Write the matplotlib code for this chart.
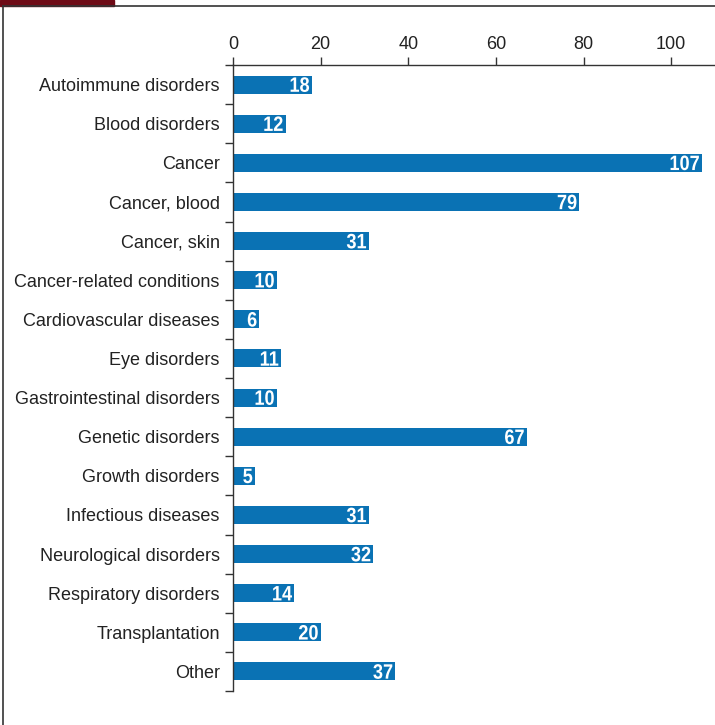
import numpy as np
import matplotlib.pyplot as plt
from matplotlib.patches import Rectangle
from matplotlib.lines import Line2D
from matplotlib.patheffects import AbstractPathEffect
from matplotlib.transforms import Affine2D

# data
categories = [
    "Autoimmune disorders", "Blood disorders", "Cancer", "Cancer, blood",
    "Cancer, skin", "Cancer-related conditions", "Cardiovascular diseases",
    "Eye disorders", "Gastrointestinal disorders", "Genetic disorders",
    "Growth disorders", "Infectious diseases", "Neurological disorders",
    "Respiratory disorders", "Transplantation", "Other",
]
counts = [18, 12, 107, 79, 31, 10, 6, 11, 10, 67, 5, 31, 32, 14, 20, 37]
x_ticks = [0, 20, 40, 60, 80, 100]

plt.rcParams['font.family'] = ['Liberation Sans', 'DejaVu Sans']


# squeeze text horizontally around x0 (display px) to fake a condensed font
class Squeeze(AbstractPathEffect):
    def __init__(self, x0, sx):
        super().__init__()
        self.x0, self.sx = x0, sx

    def draw_path(self, renderer, gc, tpath, affine, rgbFace=None):
        t = affine + Affine2D().translate(-self.x0, 0).scale(self.sx, 1).translate(self.x0, 0)
        renderer.draw_path(gc, tpath, t, rgbFace)


fig = plt.figure(figsize=(7.15, 7.25), dpi=100)

# frame: top line, left line, red tab
fig.add_artist(Line2D([3/715, 1], [1 - 6/725, 1 - 6/725], color='#333333', lw=1.2,
                      transform=fig.transFigure))
fig.add_artist(Line2D([3/715, 3/715], [0, 1 - 6/725], color='#333333', lw=1.2,
                      transform=fig.transFigure))
fig.add_artist(Rectangle((0, 1 - 6/725), 114/715, 6/725, color='#6e0a16',
                         transform=fig.transFigure))

ax = fig.add_axes([233/715, 34/725, 1 - 233/715, (691 - 65)/725])

y = np.arange(len(categories))
ax.barh(y, counts, height=0.46, color='#0a72b4')
ax.set_xlim(0, 110)
ax.set_ylim(len(categories) - 0.5, -0.5)

for yi, v in zip(y, counts):
    x0 = ax.transData.transform((v, yi))[0] - 2
    ax.annotate(str(v), (v, yi), xytext=(-1.5, -5.2), textcoords='offset points',
                ha='right', va='baseline', color='white', fontsize=15, fontweight='bold',
                path_effects=[Squeeze(x0, 0.87)])

ax.xaxis.tick_top()
ax.set_xticks(x_ticks)
ax.tick_params(axis='x', direction='out', length=6, width=1, color='#333333',
               labelsize=13, labelcolor='#222222', pad=2.5)

ax.set_yticks(y)
ax.set_yticklabels(categories)
ax.tick_params(axis='y', which='major', length=0, labelsize=13, labelcolor='#222222', pad=9.5)
ax.set_yticks(np.arange(-0.5, len(categories), 1), minor=True)
ax.tick_params(axis='y', which='minor', direction='out', length=6, width=1, color='#333333')

for s in ['right', 'bottom']:
    ax.spines[s].set_visible(False)
for s in ['top', 'left']:
    ax.spines[s].set_color('#333333')
    ax.spines[s].set_linewidth(1)

fig.savefig('out.png', dpi=100)
